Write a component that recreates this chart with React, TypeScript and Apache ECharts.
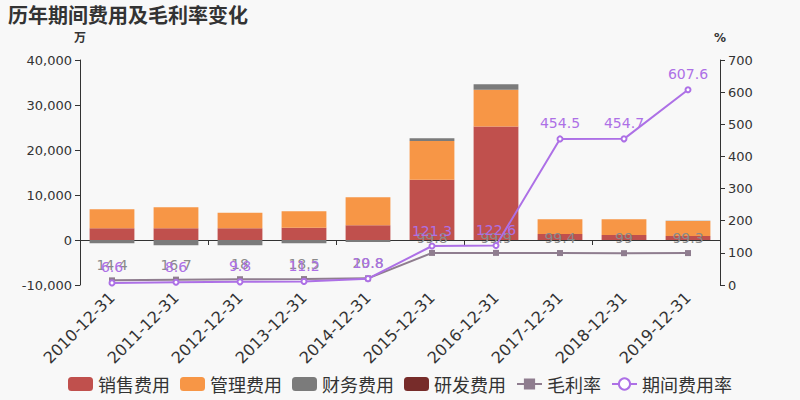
import React, { useEffect, useRef } from "react";
import * as echarts from "echarts";

const categories = ["2010-12-31", "2011-12-31", "2012-12-31", "2013-12-31", "2014-12-31", "2015-12-31", "2016-12-31", "2017-12-31", "2018-12-31", "2019-12-31"];
const salesExpense = [2600, 2600, 2600, 2740, 3260, 13400, 25200, 1330, 1110, 890];
const adminExpense = [4220, 4670, 3470, 3630, 6220, 8600, 8200, 3270, 3490, 3330];
const financeExpense = [-730, -1180, -1180, -740, -450, 600, 1200, 20, 20, 60];
const rdExpense = [0, 0, 0, 0, 0, 0, 0, 0, 0, 0];
const grossMargin = [14.4, 16.7, 18, 18.5, 20.8, 99.8, 99.9, 99.4, 99, 99.3];
const periodRate = [6.6, 8.6, 9.8, 11.2, 19.8, 121.3, 122.6, 454.5, 454.7, 607.6];

const FONT = "DejaVu Sans, Noto Sans CJK SC, sans-serif";

export default function App() {
  const ref = useRef<HTMLDivElement>(null);
  useEffect(() => {
    if (!ref.current) return;
    const chart = echarts.init(ref.current, undefined, { renderer: "svg" });
    const barBase = {
      type: "bar",
      stack: "cost",
      barWidth: "70%",
      yAxisIndex: 0,
      xAxisIndex: 0,
    };
    chart.setOption({
      animation: false,
      backgroundColor: "#f8f8f8",
      textStyle: { fontFamily: FONT },
      title: {
        text: "历年期间费用及毛利率变化",
        left: 3,
        top: -1,
        textStyle: { fontSize: 20, fontWeight: "bold", color: "#333", fontFamily: "Noto Sans CJK SC, sans-serif" },
      },
      legend: {
        bottom: 2,
        left: "center",
        itemWidth: 25,
        itemHeight: 14,
        itemGap: 10,
        textStyle: { fontSize: 18, color: "#333", fontFamily: "Noto Sans CJK SC, sans-serif" },
        data: [
          { name: "销售费用", icon: "roundRect" },
          { name: "管理费用", icon: "roundRect" },
          { name: "财务费用", icon: "roundRect" },
          { name: "研发费用", icon: "roundRect" },
          { name: "毛利率" },
          { name: "期间费用率" },
        ],
      },
      grid: { left: 80, right: 80, top: 60, bottom: 115 },
      xAxis: [
        {
          type: "category",
          data: categories,
          position: "bottom",
          axisLine: { show: false, onZero: false },
          axisTick: { show: false },
          axisLabel: { rotate: 45, fontSize: 16, color: "#333", margin: 10 },
        },
        {
          type: "category",
          data: categories,
          position: "bottom",
          axisLine: { show: true, onZero: true, onZeroAxisIndex: 0, lineStyle: { color: "#333" } },
          axisTick: { show: true, lineStyle: { color: "#333" } },
          axisLabel: { show: false },
        },
      ],
      yAxis: [
        {
          type: "value",
          name: "万",
          nameGap: 16,
          nameTextStyle: { fontSize: 12, fontWeight: "bold", color: "#333", align: "center" },
          min: -10000,
          max: 40000,
          interval: 10000,
          axisLine: { show: true, lineStyle: { color: "#333" } },
          axisTick: { show: true },
          axisLabel: { fontSize: 13, color: "#333" },
          splitLine: { show: false },
        },
        {
          type: "value",
          name: "%",
          nameGap: 16,
          nameTextStyle: { fontSize: 12, fontWeight: "bold", color: "#333", align: "center" },
          min: 0,
          max: 700,
          interval: 100,
          axisLine: { show: true, lineStyle: { color: "#333" } },
          axisTick: { show: true },
          axisLabel: { fontSize: 13, color: "#333" },
          splitLine: { show: false },
        },
      ],
      series: [
        { ...barBase, name: "销售费用", data: salesExpense, itemStyle: { color: "#c0504d" } },
        { ...barBase, name: "管理费用", data: adminExpense, itemStyle: { color: "#f79646" } },
        { ...barBase, name: "财务费用", data: financeExpense, itemStyle: { color: "#7b7b7b" } },
        { ...barBase, name: "研发费用", data: rdExpense, itemStyle: { color: "#772c2a" } },
        {
          type: "line",
          name: "毛利率",
          yAxisIndex: 1,
          data: grossMargin,
          symbol: "rect",
          symbolSize: 6,
          lineStyle: { color: "#8f7d8f", width: 2 },
          itemStyle: { color: "#8f7d8f" },
          label: { show: true, position: "top", fontSize: 14, color: "#8a8a8a" },
        },
        {
          type: "line",
          name: "期间费用率",
          yAxisIndex: 1,
          data: periodRate,
          symbol: "emptyCircle",
          symbolSize: 5,
          lineStyle: { color: "#ad70e6", width: 2 },
          itemStyle: { color: "#ad70e6" },
          label: { show: true, position: "top", fontSize: 14, color: "#ad70e6" },
        },
      ],
    });
    return () => chart.dispose();
  }, []);
  return <div ref={ref} style={{ width: 800, height: 400, position: "absolute", left: 0, top: 0 }} />;
}
